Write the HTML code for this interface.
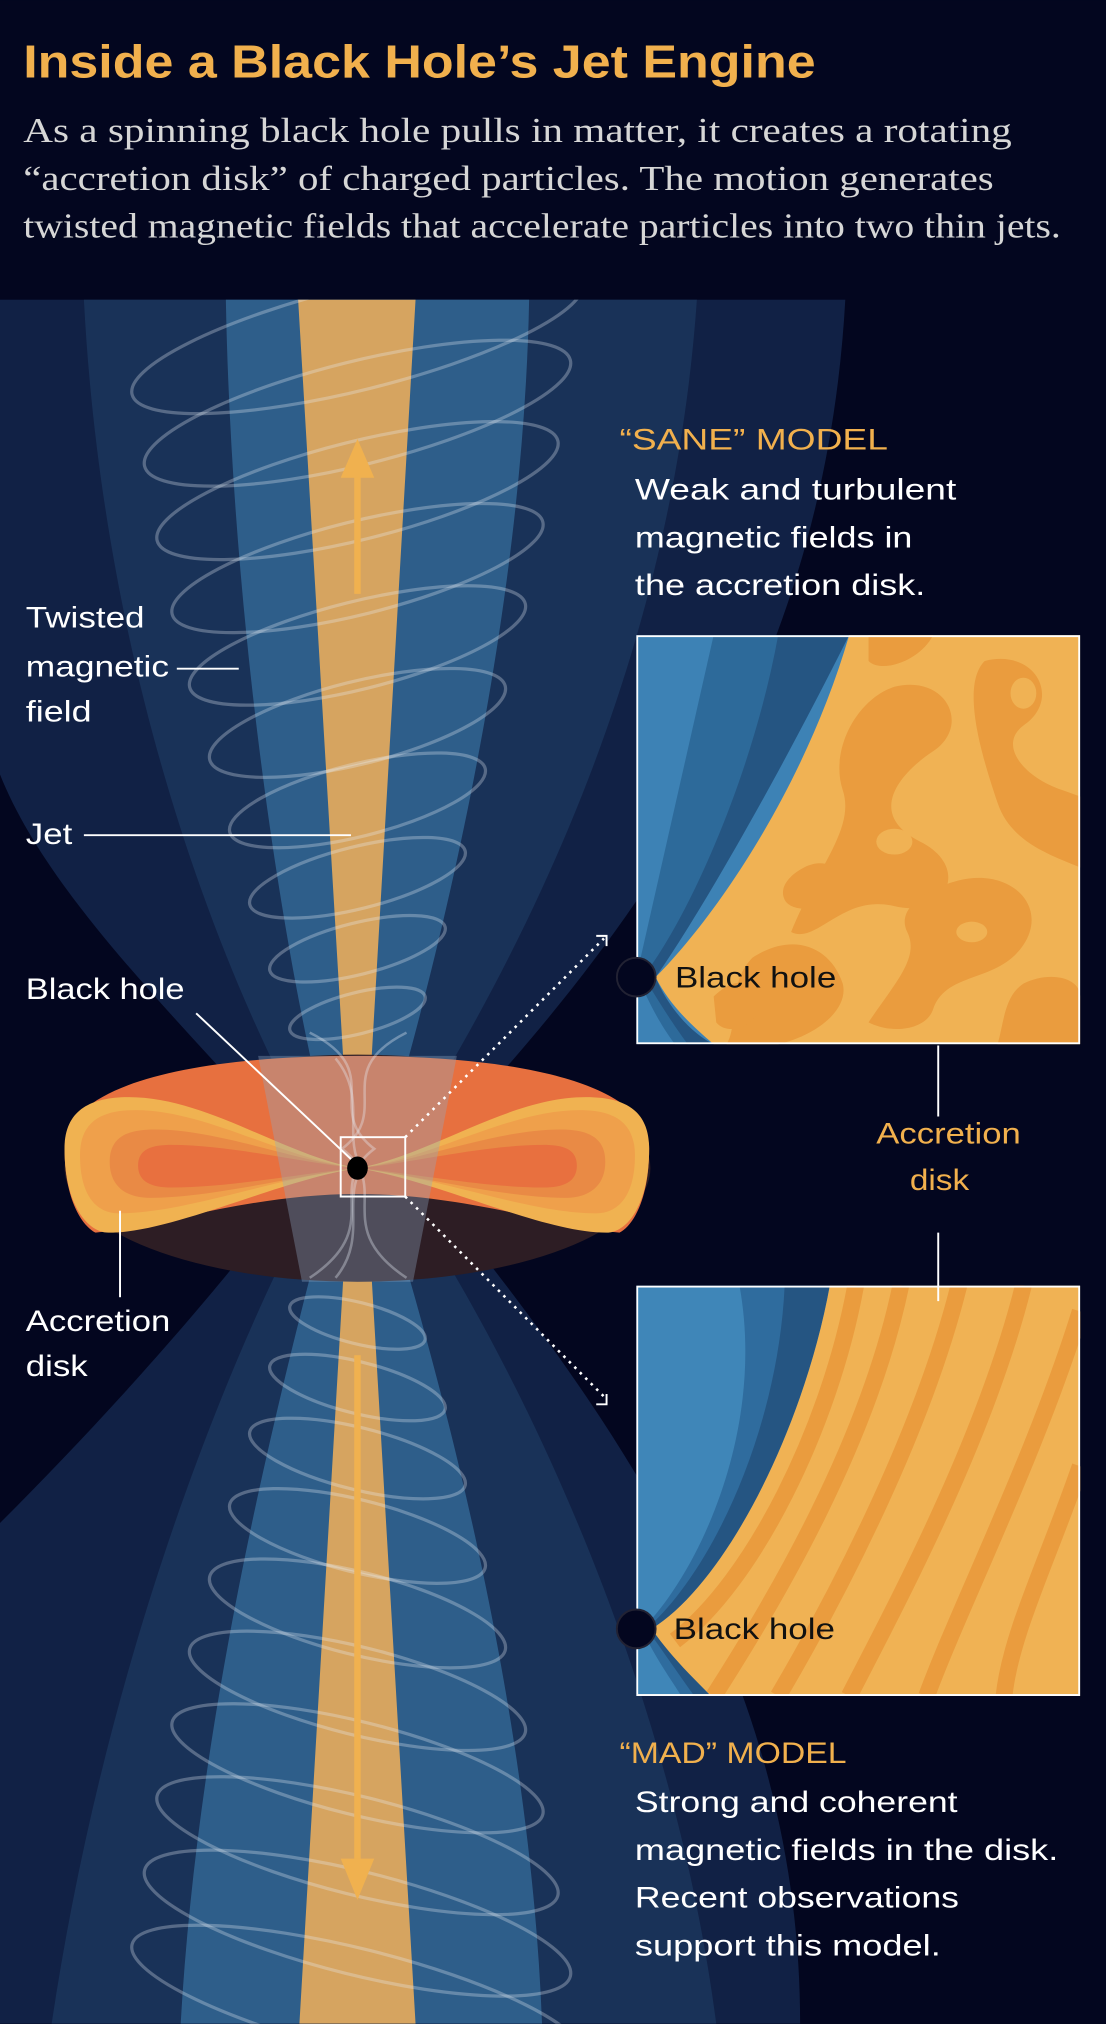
<!DOCTYPE html>
<html><head><meta charset="utf-8"><style>
html,body{margin:0;padding:0;background:#03061f;}
svg{display:block}
.s{font-family:"Liberation Sans",sans-serif;}
.f{font-family:"Liberation Serif",serif;}
</style></head><body>
<svg width="1106" height="2024" viewBox="0 0 857 1568" xmlns="http://www.w3.org/2000/svg">
<defs><clipPath id="ill"><rect x="0" y="232" width="857" height="1336"/></clipPath></defs>
<rect width="857" height="1568" fill="#03061f"/>
<text x="18" y="60" class="s" font-size="36" font-weight="bold" fill="#f1b04d" textLength="614" lengthAdjust="spacingAndGlyphs">Inside a Black Hole’s Jet Engine</text>
<g class="f" font-size="27" fill="#d6d6d6">
<text x="18" y="110" textLength="766" lengthAdjust="spacingAndGlyphs">As a spinning  black hole pulls in matter, it creates a rotating</text>
<text x="18" y="147" textLength="752" lengthAdjust="spacingAndGlyphs">“accretion disk” of charged particles. The motion generates</text>
<text x="18" y="184" textLength="804" lengthAdjust="spacingAndGlyphs">twisted magnetic fields that accelerate particles into two thin jets.</text>
</g>
<g clip-path="url(#ill)">
<path d="M0,232 L655,232 C640,500 520,700 320,905 C480,1100 620,1300 620,1568 L0,1568 L0,1180 C120,1060 200,960 240,905 C150,800 40,700 0,600 Z" fill="#112145"/>
<path d="M65,232 L540,232 C520,520 400,750 300,905 C400,1050 520,1300 555,1568 L40,1568 C80,1300 170,1060 255,905 C170,760 80,520 65,232 Z" fill="#193258"/>
<path d="M175,232 L410,232 C405,500 330,780 292,905 C330,1030 410,1300 420,1568 L140,1568 C155,1300 230,1030 262,905 C225,780 180,500 175,232 Z" fill="#2e5e8a"/>
<path d="M231,232 L322,232 L283,905 L322,1568 L232,1568 L271,905 Z" fill="#d6a460"/>
<g fill="none" stroke="#e8eef5" stroke-opacity="0.3" stroke-width="2.5">
<ellipse cx="277" cy="262" rx="180" ry="40" transform="rotate(-14 277 262)"/>
<ellipse cx="277" cy="320" rx="170" ry="40" transform="rotate(-14 277 320)"/>
<ellipse cx="277" cy="380" rx="160" ry="38" transform="rotate(-14 277 380)"/>
<ellipse cx="277" cy="440" rx="148" ry="36" transform="rotate(-14 277 440)"/>
<ellipse cx="277" cy="500" rx="134" ry="34" transform="rotate(-14 277 500)"/>
<ellipse cx="277" cy="560" rx="118" ry="32" transform="rotate(-14 277 560)"/>
<ellipse cx="277" cy="620" rx="102" ry="28" transform="rotate(-14 277 620)"/>
<ellipse cx="277" cy="680" rx="86" ry="24" transform="rotate(-14 277 680)"/>
<ellipse cx="277" cy="735" rx="70" ry="20" transform="rotate(-14 277 735)"/>
<ellipse cx="277" cy="785" rx="54" ry="16" transform="rotate(-14 277 785)"/>
<ellipse cx="277" cy="1025" rx="54" ry="16" transform="rotate(14 277 1025)"/>
<ellipse cx="277" cy="1075" rx="70" ry="20" transform="rotate(14 277 1075)"/>
<ellipse cx="277" cy="1130" rx="86" ry="24" transform="rotate(14 277 1130)"/>
<ellipse cx="277" cy="1190" rx="102" ry="28" transform="rotate(14 277 1190)"/>
<ellipse cx="277" cy="1250" rx="118" ry="32" transform="rotate(14 277 1250)"/>
<ellipse cx="277" cy="1310" rx="134" ry="34" transform="rotate(14 277 1310)"/>
<ellipse cx="277" cy="1370" rx="148" ry="36" transform="rotate(14 277 1370)"/>
<ellipse cx="277" cy="1430" rx="160" ry="38" transform="rotate(14 277 1430)"/>
<ellipse cx="277" cy="1490" rx="170" ry="40" transform="rotate(14 277 1490)"/>
<ellipse cx="277" cy="1550" rx="180" ry="40" transform="rotate(14 277 1550)"/>
</g>
</g>
<!-- disk -->
<ellipse cx="277" cy="905" rx="227" ry="88" fill="#2d1d24"/>
<path d="M50,890 C50,840 150,818 277,818 C404,818 503,840 503,890 C503,930 490,950 480,955 C430,950 360,925 277,925 C194,925 124,950 74,955 C64,950 50,930 50,890 Z" fill="#e7703f"/>
<path d="M50,890 C50,860 70,850 100,850 C160,850 220,895 277,905 C334,895 394,850 454,850 C484,850 503,860 503,890 C503,935 485,955 470,955 C420,955 340,915 277,905 C214,915 134,955 84,955 C69,955 50,935 50,890 Z" fill="#f0b251"/>
<path d="M62,895 C62,868 80,860 105,860 C160,860 220,898 277,905 C334,898 394,860 449,860 C474,860 492,868 492,895 C492,928 478,940 462,940 C410,940 340,912 277,905 C214,912 144,940 92,940 C76,940 62,928 62,895 Z" fill="#efa04b"/>
<path d="M85,900 C85,880 100,875 120,875 C170,875 230,900 277,905 C324,900 384,875 434,875 C454,875 469,880 469,900 C469,920 455,928 438,928 C390,928 320,910 277,905 C234,910 164,928 116,928 C99,928 85,920 85,900 Z" fill="#e98a45"/>
<path d="M107,903 C107,890 118,887 133,887 C180,887 240,902 277,905 C314,902 374,887 421,887 C436,887 447,890 447,903 C447,916 436,920 421,920 C374,920 314,908 277,905 C240,908 180,920 133,920 C118,920 107,916 107,903 Z" fill="#e8703f"/>
<path d="M200,818 L354,818 L320,993 L234,993 Z" fill="#8fa9c4" opacity="0.35"/>
<g fill="none" stroke="#e8eef5" stroke-opacity="0.35" stroke-width="2">
<path d="M240,800 C300,830 250,860 290,890 C250,920 300,950 240,990"/>
<path d="M315,800 C255,830 305,860 265,890 C305,920 255,950 315,990"/>
<path d="M260,820 C285,850 265,880 280,905 C265,930 285,960 260,990"/>
</g>
<!-- arrows -->
<g fill="#f0b14f" stroke="#f0b14f">
<line x1="277" y1="460" x2="277" y2="365" stroke-width="5"/>
<path d="M264,370 L277,340 L290,370 Z" stroke="none"/>
<line x1="277" y1="1050" x2="277" y2="1445" stroke-width="5"/>
<path d="M264,1440 L277,1472 L290,1440 Z" stroke="none"/>
</g>
<rect x="264" y="881" width="50" height="46" fill="none" stroke="#fff" stroke-width="1.5"/>
<ellipse cx="277" cy="905" rx="8" ry="9" fill="#000"/>
<g stroke="#fff" stroke-width="2" stroke-dasharray="2 4" fill="none">
<line x1="314" y1="881" x2="468" y2="727"/>
<line x1="314" y1="927" x2="468" y2="1082"/>
</g>
<g stroke="#fff" stroke-width="1.5" fill="none">
<path d="M462,725 L470,725 L470,733"/>
<path d="M462,1088 L470,1088 L470,1080"/>
</g>
<!-- SANE inset -->
<svg x="493" y="492" width="344" height="317" viewBox="0 0 344 317">
<rect width="344" height="317" fill="#3d82b5"/>
<path d="M60,0 L160,0 C110,120 40,220 15,265 C20,290 40,310 50,317 L30,317 C10,290 5,270 0,265 Z" fill="#2d6a9a"/>
<path d="M110,0 L165,0 C100,130 40,230 15,265 C25,290 45,310 60,317 L40,317 C20,290 10,270 5,265 C40,220 90,110 110,0 Z" fill="#255582"/>
<path d="M165,0 L344,0 L344,317 L60,317 C40,300 25,285 15,265 C60,220 130,120 165,0 Z" fill="#f0b254"/>
<g fill="#ea9c3e">
<path d="M200,40 C240,30 260,70 230,90 C200,110 180,140 220,160 C260,180 240,220 200,210 C160,200 140,240 120,230 C140,180 170,150 160,120 C150,90 170,50 200,40 Z"/>
<path d="M270,20 C310,10 330,50 300,70 C280,85 300,110 330,120 L344,125 L344,180 C320,170 290,160 280,130 C270,100 250,40 270,20 Z"/>
<path d="M250,190 C290,180 320,210 300,240 C280,270 240,260 230,290 C225,305 200,310 180,300 C200,270 220,250 210,230 C200,210 230,195 250,190 Z"/>
<path d="M90,250 C120,230 150,240 160,270 C165,290 140,310 110,317 L70,317 C80,300 70,270 90,250 Z"/>
<path d="M300,270 C320,260 344,265 344,280 L344,317 L280,317 C285,300 285,280 300,270 Z"/>
<path d="M180,0 L230,0 C220,20 190,30 180,20 Z"/>
<path d="M130,180 C150,170 165,185 155,200 C145,215 120,215 115,205 C110,195 120,185 130,180 Z"/>
<path d="M60,280 C80,260 100,270 95,290 C90,305 70,310 62,300 Z"/>
</g>
<g fill="#f0b254"><ellipse cx="200" cy="160" rx="14" ry="10"/><ellipse cx="300" cy="45" rx="10" ry="12"/><ellipse cx="260" cy="230" rx="12" ry="8"/></g>
<rect x="0.75" y="0.75" width="342.5" height="315.5" fill="none" stroke="#fff" stroke-width="1.5"/>
</svg>
<circle cx="493" cy="757" r="15" fill="#03061f" stroke="#223" stroke-width="1.5"/>
<text x="523" y="765" class="s" font-size="23" fill="#111" textLength="125" lengthAdjust="spacingAndGlyphs">Black hole</text>
<!-- MAD inset -->
<svg x="493" y="996" width="344" height="318" viewBox="0 0 344 318">
<rect width="344" height="318" fill="#3f86b8"/>
<path d="M80,0 L140,0 C120,110 60,230 12,266 C30,290 45,305 50,318 L35,318 C20,295 10,280 5,266 C50,220 100,110 80,0 Z" fill="#2f6c9e"/>
<path d="M115,0 L150,0 C130,110 70,230 12,266 C30,290 50,310 58,318 L45,318 C25,290 15,275 8,266 C60,220 110,110 115,0 Z" fill="#255582"/>
<path d="M150,0 L344,0 L344,318 L58,318 C40,300 25,285 12,266 C70,230 130,110 150,0 Z" fill="#f0b254"/>
<g fill="none" stroke="#ea9c3e" stroke-width="13">
<path d="M170,0 C150,110 90,230 30,275"/>
<path d="M205,0 C180,120 110,240 60,318"/>
<path d="M250,0 C220,120 150,250 110,318"/>
<path d="M300,0 C270,120 200,250 165,318"/>
<path d="M344,20 C310,130 250,250 225,318"/>
<path d="M344,140 C320,210 290,270 285,318"/>
</g>
<rect x="0.75" y="0.75" width="342.5" height="316.5" fill="none" stroke="#fff" stroke-width="1.5"/>
</svg>
<circle cx="493" cy="1262" r="15" fill="#03061f" stroke="#223" stroke-width="1.5"/>
<text x="522" y="1270" class="s" font-size="23" fill="#111" textLength="125" lengthAdjust="spacingAndGlyphs">Black hole</text>
<!-- labels -->
<g class="s" font-size="23" fill="#fff">
<text x="480" y="348" fill="#f1b04d" textLength="208" lengthAdjust="spacingAndGlyphs">“SANE” MODEL</text>
<text x="492" y="387" textLength="249" lengthAdjust="spacingAndGlyphs">Weak and turbulent</text>
<text x="492" y="424" textLength="215" lengthAdjust="spacingAndGlyphs">magnetic fields in</text>
<text x="492" y="461" textLength="225" lengthAdjust="spacingAndGlyphs">the accretion disk.</text>
<text x="20" y="486" textLength="92" lengthAdjust="spacingAndGlyphs">Twisted</text>
<text x="20" y="524" textLength="111" lengthAdjust="spacingAndGlyphs">magnetic</text>
<text x="20" y="559" textLength="51" lengthAdjust="spacingAndGlyphs">field</text>
<text x="20" y="654" textLength="36" lengthAdjust="spacingAndGlyphs">Jet</text>
<text x="20" y="774" textLength="123" lengthAdjust="spacingAndGlyphs">Black hole</text>
<text x="20" y="1031" textLength="112" lengthAdjust="spacingAndGlyphs">Accretion</text>
<text x="20" y="1066" textLength="48" lengthAdjust="spacingAndGlyphs">disk</text>
<text x="679" y="886" fill="#f1b04d" textLength="112" lengthAdjust="spacingAndGlyphs">Accretion</text>
<text x="705" y="922" fill="#f1b04d" textLength="46" lengthAdjust="spacingAndGlyphs">disk</text>
<text x="480" y="1366" fill="#f1b04d" textLength="176" lengthAdjust="spacingAndGlyphs">“MAD” MODEL</text>
<text x="492" y="1404" textLength="250" lengthAdjust="spacingAndGlyphs">Strong and coherent</text>
<text x="492" y="1441" textLength="328" lengthAdjust="spacingAndGlyphs">magnetic fields in the disk.</text>
<text x="492" y="1478" textLength="251" lengthAdjust="spacingAndGlyphs">Recent observations</text>
<text x="492" y="1515" textLength="237" lengthAdjust="spacingAndGlyphs">support this model.</text>
</g>
<g stroke="#fff" stroke-width="1.5">
<line x1="137" y1="518" x2="185" y2="518"/>
<line x1="65" y1="647" x2="272" y2="647"/>
<line x1="152" y1="785" x2="272" y2="898"/>
<line x1="93" y1="938" x2="93" y2="1005"/>
<line x1="727" y1="810" x2="727" y2="865"/>
<line x1="727" y1="955" x2="727" y2="1008"/>
</g>
</svg>
</body></html>
